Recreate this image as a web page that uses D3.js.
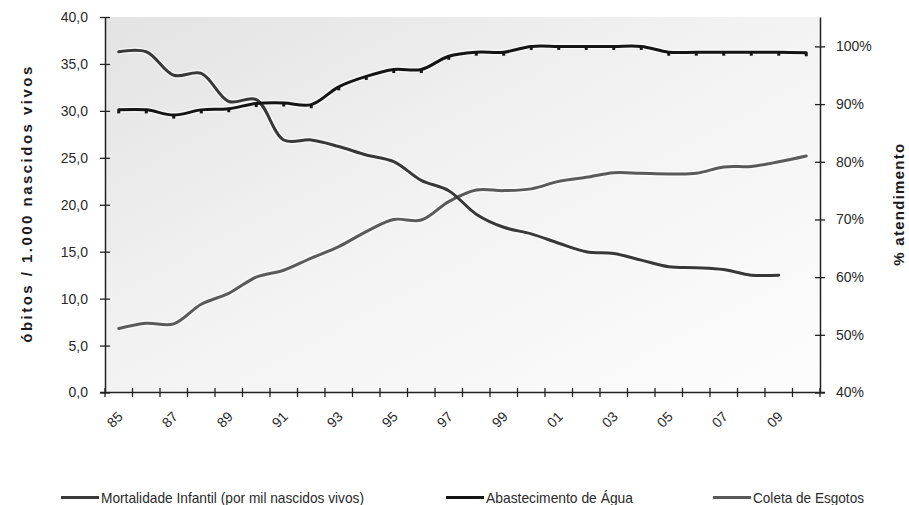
<!DOCTYPE html>
<html>
<head>
<meta charset="utf-8">
<script src="https://cdn.jsdelivr.net/npm/d3@7"></script>
<style>
  html, body { margin: 0; padding: 0; background: #fff; }
  svg { display: block; font-family: "Liberation Sans", Arial, sans-serif; }
</style>
</head>
<body>
<svg id="chart" width="909" height="505"></svg>
<script>
// Years 1985–2010 (two-digit labels)
const years = ["85","86","87","88","89","90","91","92","93","94","95","96","97","98","99",
               "00","01","02","03","04","05","06","07","08","09","10"];

// Infant mortality (deaths per 1,000 live births), 1985–2009
const mortalidade = [36.3, 36.3, 33.8, 34.0, 31.0, 31.2, 26.9, 26.9, 26.2, 25.3, 24.6, 22.6, 21.5,
                     19.0, 17.6, 16.9, 15.9, 15.0, 14.8, 14.1, 13.4, 13.3, 13.1, 12.5, 12.5];

// Water supply coverage (%), 1985–2010
const abastecimento = [89.0, 89.0, 88.1, 89.0, 89.2, 90.1, 90.2, 89.9, 93.0, 94.8, 96.0, 96.0, 98.3,
                       99.0, 99.0, 100.0, 100.0, 100.0, 100.0, 100.0, 99.0, 99.0, 99.0, 99.0, 99.0, 98.9];

// Sewage collection coverage (%), 1985–2010
const coleta = [51.1, 52.0, 51.9, 55.3, 57.2, 60.0, 61.2, 63.3, 65.3, 67.9, 70.0, 69.9, 73.1,
                75.1, 75.0, 75.3, 76.6, 77.3, 78.1, 78.0, 77.9, 78.0, 79.1, 79.2, 80.0, 81.0];

const leftTicks = [0, 5, 10, 15, 20, 25, 30, 35, 40];
const rightTicks = [40, 50, 60, 70, 80, 90, 100];
const xLabelYears = years.filter((d, i) => i % 2 === 0 && i < 25);

const seriesNames = ["Mortalidade Infantil (por mil nascidos vivos)", "Abastecimento de Água", "Coleta de Esgotos"];
const seriesColors = ["#383838", "#141414", "#5a5a5a"];

const svg = d3.select("#chart");
const plot = { left: 105, right: 820, top: 17, bottom: 392.5 };

const x = d3.scaleBand().domain(years).range([plot.left, plot.right]).padding(0);
const yL = d3.scaleLinear().domain([0, 40]).range([plot.bottom, plot.top]);
const yR = d3.scaleLinear().domain([40, 105.1]).range([plot.bottom, plot.top]);
const cx = d => x(d) + x.bandwidth() / 2;

// Plot area background: soft diagonal gray-to-white gradient
const defs = svg.append("defs");
const grad = defs.append("linearGradient").attr("id", "bg")
  .attr("x1", "0").attr("y1", "0").attr("x2", "1").attr("y2", "1");
grad.append("stop").attr("offset", "0").attr("stop-color", "#e3e3e3");
grad.append("stop").attr("offset", "0.45").attr("stop-color", "#f2f2f2");
grad.append("stop").attr("offset", "1").attr("stop-color", "#fdfdfd");

svg.append("rect")
  .attr("x", plot.left).attr("y", plot.top)
  .attr("width", plot.right - plot.left).attr("height", plot.bottom - plot.top)
  .attr("fill", "url(#bg)");

// Lines
const lineL = d3.line().x((d, i) => cx(years[i])).y(d => yL(d)).curve(d3.curveCatmullRom.alpha(0.5));
const lineR = d3.line().x((d, i) => cx(years[i])).y(d => yR(d)).curve(d3.curveCatmullRom.alpha(0.5));

const lines = svg.append("g");
const series = [
  { data: coleta, gen: lineR, color: seriesColors[2] },
  { data: mortalidade, gen: lineL, color: seriesColors[0] },
  { data: abastecimento, gen: lineR, color: seriesColors[1] }
];
series.forEach(s => {
  lines.append("path").attr("d", s.gen(s.data))
    .attr("fill", "none").attr("stroke", "#ffffff").attr("stroke-opacity", 0.55)
    .attr("stroke-width", 6).attr("stroke-linejoin", "round");
});
series.forEach(s => {
  lines.append("path").attr("d", s.gen(s.data))
    .attr("fill", "none").attr("stroke", s.color)
    .attr("stroke-width", 3).attr("stroke-linejoin", "round").attr("stroke-linecap", "round");
});

// Small point markers on the water supply series
lines.selectAll("rect.mk").data(abastecimento).join("rect")
  .attr("class", "mk")
  .attr("x", (d, i) => cx(years[i]) - 1.5)
  .attr("y", d => yR(d) + 0.5)
  .attr("width", 3).attr("height", 3)
  .attr("fill", seriesColors[1]);

// Axes
const axisColor = "#222";
const textColor = "#2a2a2a";

const leftAxis = d3.axisLeft(yL).tickValues(leftTicks).tickSize(0)
  .tickFormat(d => d3.format(".1f")(d).replace(".", ","));
const gL = svg.append("g").attr("transform", `translate(${plot.left},0)`).call(leftAxis);
gL.select(".domain").attr("stroke", axisColor).attr("stroke-width", 1.5);
gL.selectAll(".tick line").remove();
gL.selectAll(".tick").append("line").attr("x1", -5).attr("x2", 5)
  .attr("stroke", axisColor).attr("stroke-width", 1.3);
gL.selectAll(".tick text").attr("x", -17).attr("fill", textColor)
  .style("font-size", "14px");

const rightAxis = d3.axisRight(yR).tickValues(rightTicks).tickSize(0).tickFormat(d => d + "%");
const gR = svg.append("g").attr("transform", `translate(${plot.right},0)`).call(rightAxis);
gR.select(".domain").attr("stroke", axisColor).attr("stroke-width", 1.5);
gR.selectAll(".tick line").remove();
gR.selectAll(".tick").append("line").attr("x1", -5).attr("x2", 5)
  .attr("stroke", axisColor).attr("stroke-width", 1.3);
gR.selectAll(".tick text").attr("x", 16).attr("fill", textColor)
  .style("font-size", "14px");

// Category axis with tick marks between categories
const gX = svg.append("g");
gX.append("line")
  .attr("x1", plot.left - 5).attr("x2", plot.right + 5)
  .attr("y1", plot.bottom).attr("y2", plot.bottom)
  .attr("stroke", axisColor).attr("stroke-width", 1.5);
const boundaries = years.map(d => x(d)).concat([x(years[years.length - 1]) + x.bandwidth()]);
gX.selectAll("line.tk").data(boundaries).join("line")
  .attr("class", "tk")
  .attr("x1", d => d).attr("x2", d => d)
  .attr("y1", plot.bottom - 4.5).attr("y2", plot.bottom + 4.5)
  .attr("stroke", axisColor).attr("stroke-width", 1.3);
gX.selectAll("text").data(xLabelYears).join("text")
  .attr("transform", d => `translate(${cx(d) + 5},${plot.bottom + 25}) rotate(-45)`)
  .attr("text-anchor", "end")
  .attr("fill", textColor)
  .style("font-size", "14px")
  .text(d => d);

// Axis titles
svg.append("text")
  .attr("transform", `translate(32,${(plot.top + plot.bottom) / 2}) rotate(-90)`)
  .attr("text-anchor", "middle")
  .attr("textLength", 276).attr("lengthAdjust", "spacing")
  .attr("fill", "#1a1a1a")
  .style("font-size", "15px").style("font-weight", "bold")
  .text("óbitos / 1.000 nascidos vivos");

svg.append("text")
  .attr("transform", `translate(904,${(plot.top + plot.bottom) / 2}) rotate(-90)`)
  .attr("text-anchor", "middle")
  .attr("textLength", 122).attr("lengthAdjust", "spacing")
  .attr("fill", "#1a1a1a")
  .style("font-size", "15px").style("font-weight", "bold")
  .text("% atendimento");

// Legend
const legendItems = [
  { name: seriesNames[0], color: seriesColors[0], x: 61, w: 263 },
  { name: seriesNames[1], color: seriesColors[1], x: 446, w: 147 },
  { name: seriesNames[2], color: seriesColors[2], x: 713, w: 111 }
];
const lg = svg.append("g");
legendItems.forEach(it => {
  lg.append("line")
    .attr("x1", it.x).attr("x2", it.x + 38)
    .attr("y1", 497.5).attr("y2", 497.5)
    .attr("stroke", it.color).attr("stroke-width", 3);
  lg.append("text")
    .attr("x", it.x + 40).attr("y", 502.5)
    .attr("textLength", it.w).attr("lengthAdjust", "spacingAndGlyphs")
    .attr("fill", textColor)
    .style("font-size", "14.5px")
    .text(it.name);
});
</script>
</body>
</html>
